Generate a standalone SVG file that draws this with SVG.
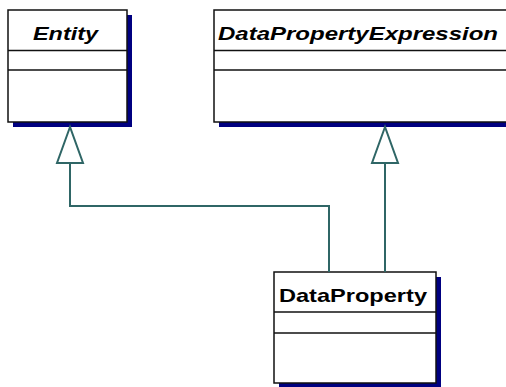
<svg xmlns="http://www.w3.org/2000/svg" width="506" height="387" viewBox="0 0 506 387">
<style>
.shadow{fill:#000080;stroke:none}
.box{fill:#fff;stroke:#111;stroke-width:1.5}
.div{stroke:#111;stroke-width:1.5}
.title{font-family:"Liberation Sans",Arial,sans-serif;font-size:19px;font-weight:bold;fill:#000}
.abstract{font-style:italic}
.conn{fill:none;stroke:#2f6666;stroke-width:2}
.head{fill:#fff;stroke:#2f6666;stroke-width:2;stroke-linejoin:miter}
</style>
<rect width="506" height="387" fill="#fff"/>
<g id="Entity">
<rect class="shadow" x="13" y="15" width="119" height="112"/>
<rect class="box" x="8" y="10" width="119" height="112"/>
<line class="div" x1="8" y1="50.5" x2="127" y2="50.5"/>
<line class="div" x1="8" y1="70" x2="127" y2="70"/>
<text class="title abstract" x="33" y="40" textLength="65" lengthAdjust="spacingAndGlyphs">Entity</text>
</g>
<g id="DataPropertyExpression">
<rect class="shadow" x="219" y="15" width="300" height="112"/>
<rect class="box" x="214" y="10" width="300" height="112"/>
<line class="div" x1="214" y1="50.5" x2="514" y2="50.5"/>
<line class="div" x1="214" y1="70" x2="514" y2="70"/>
<text class="title abstract" x="218" y="40" textLength="280" lengthAdjust="spacingAndGlyphs">DataPropertyExpression</text>
</g>
<g id="DataProperty">
<rect class="shadow" x="279" y="277" width="162" height="112"/>
<rect class="box" x="274" y="272" width="162" height="111"/>
<line class="div" x1="274" y1="312" x2="436" y2="312"/>
<line class="div" x1="274" y1="333" x2="436" y2="333"/>
<text class="title" x="279" y="302" textLength="148" lengthAdjust="spacingAndGlyphs">DataProperty</text>
</g>
<g id="connectors">
<polyline class="conn" points="329,272 329,206 70,206 70,163"/>
<polygon class="head" points="70,127 57,163 83,163"/>
<line class="conn" x1="385" y1="272" x2="385" y2="163"/>
<polygon class="head" points="385,127 372,163 398,163"/>
</g>
</svg>
